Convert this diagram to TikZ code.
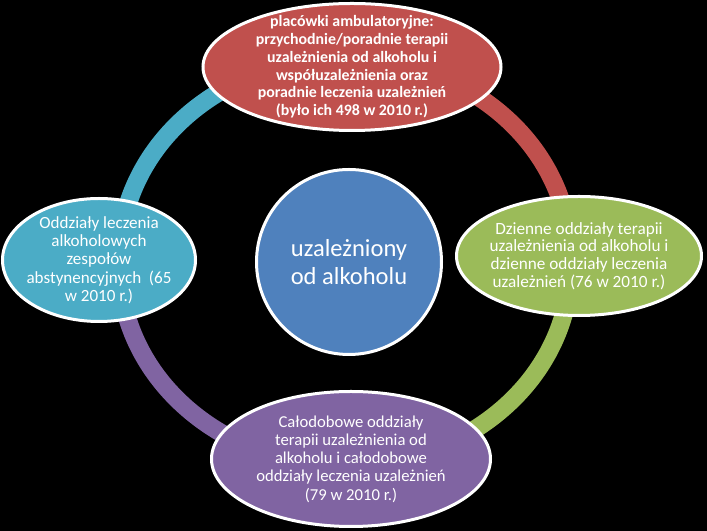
\documentclass[tikz,border=0pt]{standalone}
\usepackage{fontspec}
\setmainfont{Carlito}
\usepackage{tikz}
\usetikzlibrary{shapes.geometric, positioning}

\definecolor{cred}{HTML}{C0504D}
\definecolor{cgreen}{HTML}{9BBB59}
\definecolor{cpurple}{HTML}{8064A2}
\definecolor{cteal}{HTML}{4BACC6}
\definecolor{cblue}{HTML}{4F81BD}

\pgfdeclarelayer{bg}
\pgfsetlayers{bg,main}

\begin{document}
\begin{tikzpicture}[x=0.75pt,y=0.75pt]

\tikzset{bubble/.style = {shape=ellipse,draw=white,line width=2.25pt,inner sep=0pt}}
\tikzset{txt/.style = {text=white,align=center,inner sep=0pt}}
\tikzset{ring/.style = {line width=13.5pt}}
\useasboundingbox (0,0) rectangle (707,531);
% bubbles
\node[bubble,fill=cred,minimum width=223.5pt,minimum height=95.25pt] (amb) at (352,464) {};
\node[bubble,fill=cgreen,minimum width=183.75pt,minimum height=89.25pt] (dzien) at (579,275) {};
\node[bubble,fill=cpurple,minimum width=209.25pt,minimum height=101.25pt] (calo) at (351,72) {};
\node[bubble,fill=cteal,minimum width=144.75pt,minimum height=92.25pt] (odd) at (99,271) {};
\node[bubble,shape=circle,fill=cblue,minimum size=138.75pt] (uz) at (349,269) {};
% texts
\node[txt,font=\fontsize{11.9}{13.3}\selectfont\bfseries] (amb-t) at (amb) {placówki ambulatoryjne:\\ przychodnie/poradnie terapii\\ uzależnienia od alkoholu i\\ współuzależnienia oraz\\ poradnie leczenia uzależnień\\ (było ich 498 w 2010 r.)};
\node[txt,font=\fontsize{12.9}{13.3}\selectfont] (dzien-t) at (dzien) {Dzienne oddziały terapii\\ uzależnienia od alkoholu i\\ dzienne oddziały leczenia\\ uzależnień (76 w 2010 r.)};
\node[txt,font=\fontsize{12.5}{13.7}\selectfont] (calo-t) at (calo) {Całodobowe oddziały\\ terapii uzależnienia od\\ alkoholu i całodobowe\\ oddziały leczenia uzależnień\\ (79 w 2010 r.)};
\node[txt,font=\fontsize{12.8}{13.7}\selectfont] (odd-t) at (odd) {Oddziały leczenia\\ alkoholowych\\ zespołów\\ abstynencyjnych\ \ (65\\ w 2010 r.)};
\node[txt,font=\fontsize{18.4}{21}\selectfont] (uz-t) at (uz) {uzależniony\\ od alkoholu};
% ring
\begin{pgfonlayer}{bg}
\fill[black] (0,0) rectangle (707,531);
\draw[ring,cred] ([shift={(-7,9)}]amb.center) to[out=0,in=90] ([shift={(-8,-6)}]dzien.center);
\draw[ring,cgreen] ([shift={(-8,-6)}]dzien.center) to[out=-90,in=0] ([shift={(-6,-7)}]calo.center);
\draw[ring,cpurple] ([shift={(-6,-7)}]calo.center) to[out=180,in=-90] ([shift={(20,-2)}]odd.center);
\draw[ring,cteal] ([shift={(20,-2)}]odd.center) to[out=90,in=180] ([shift={(-7,9)}]amb.center);
\end{pgfonlayer}
\end{tikzpicture}
\end{document}
